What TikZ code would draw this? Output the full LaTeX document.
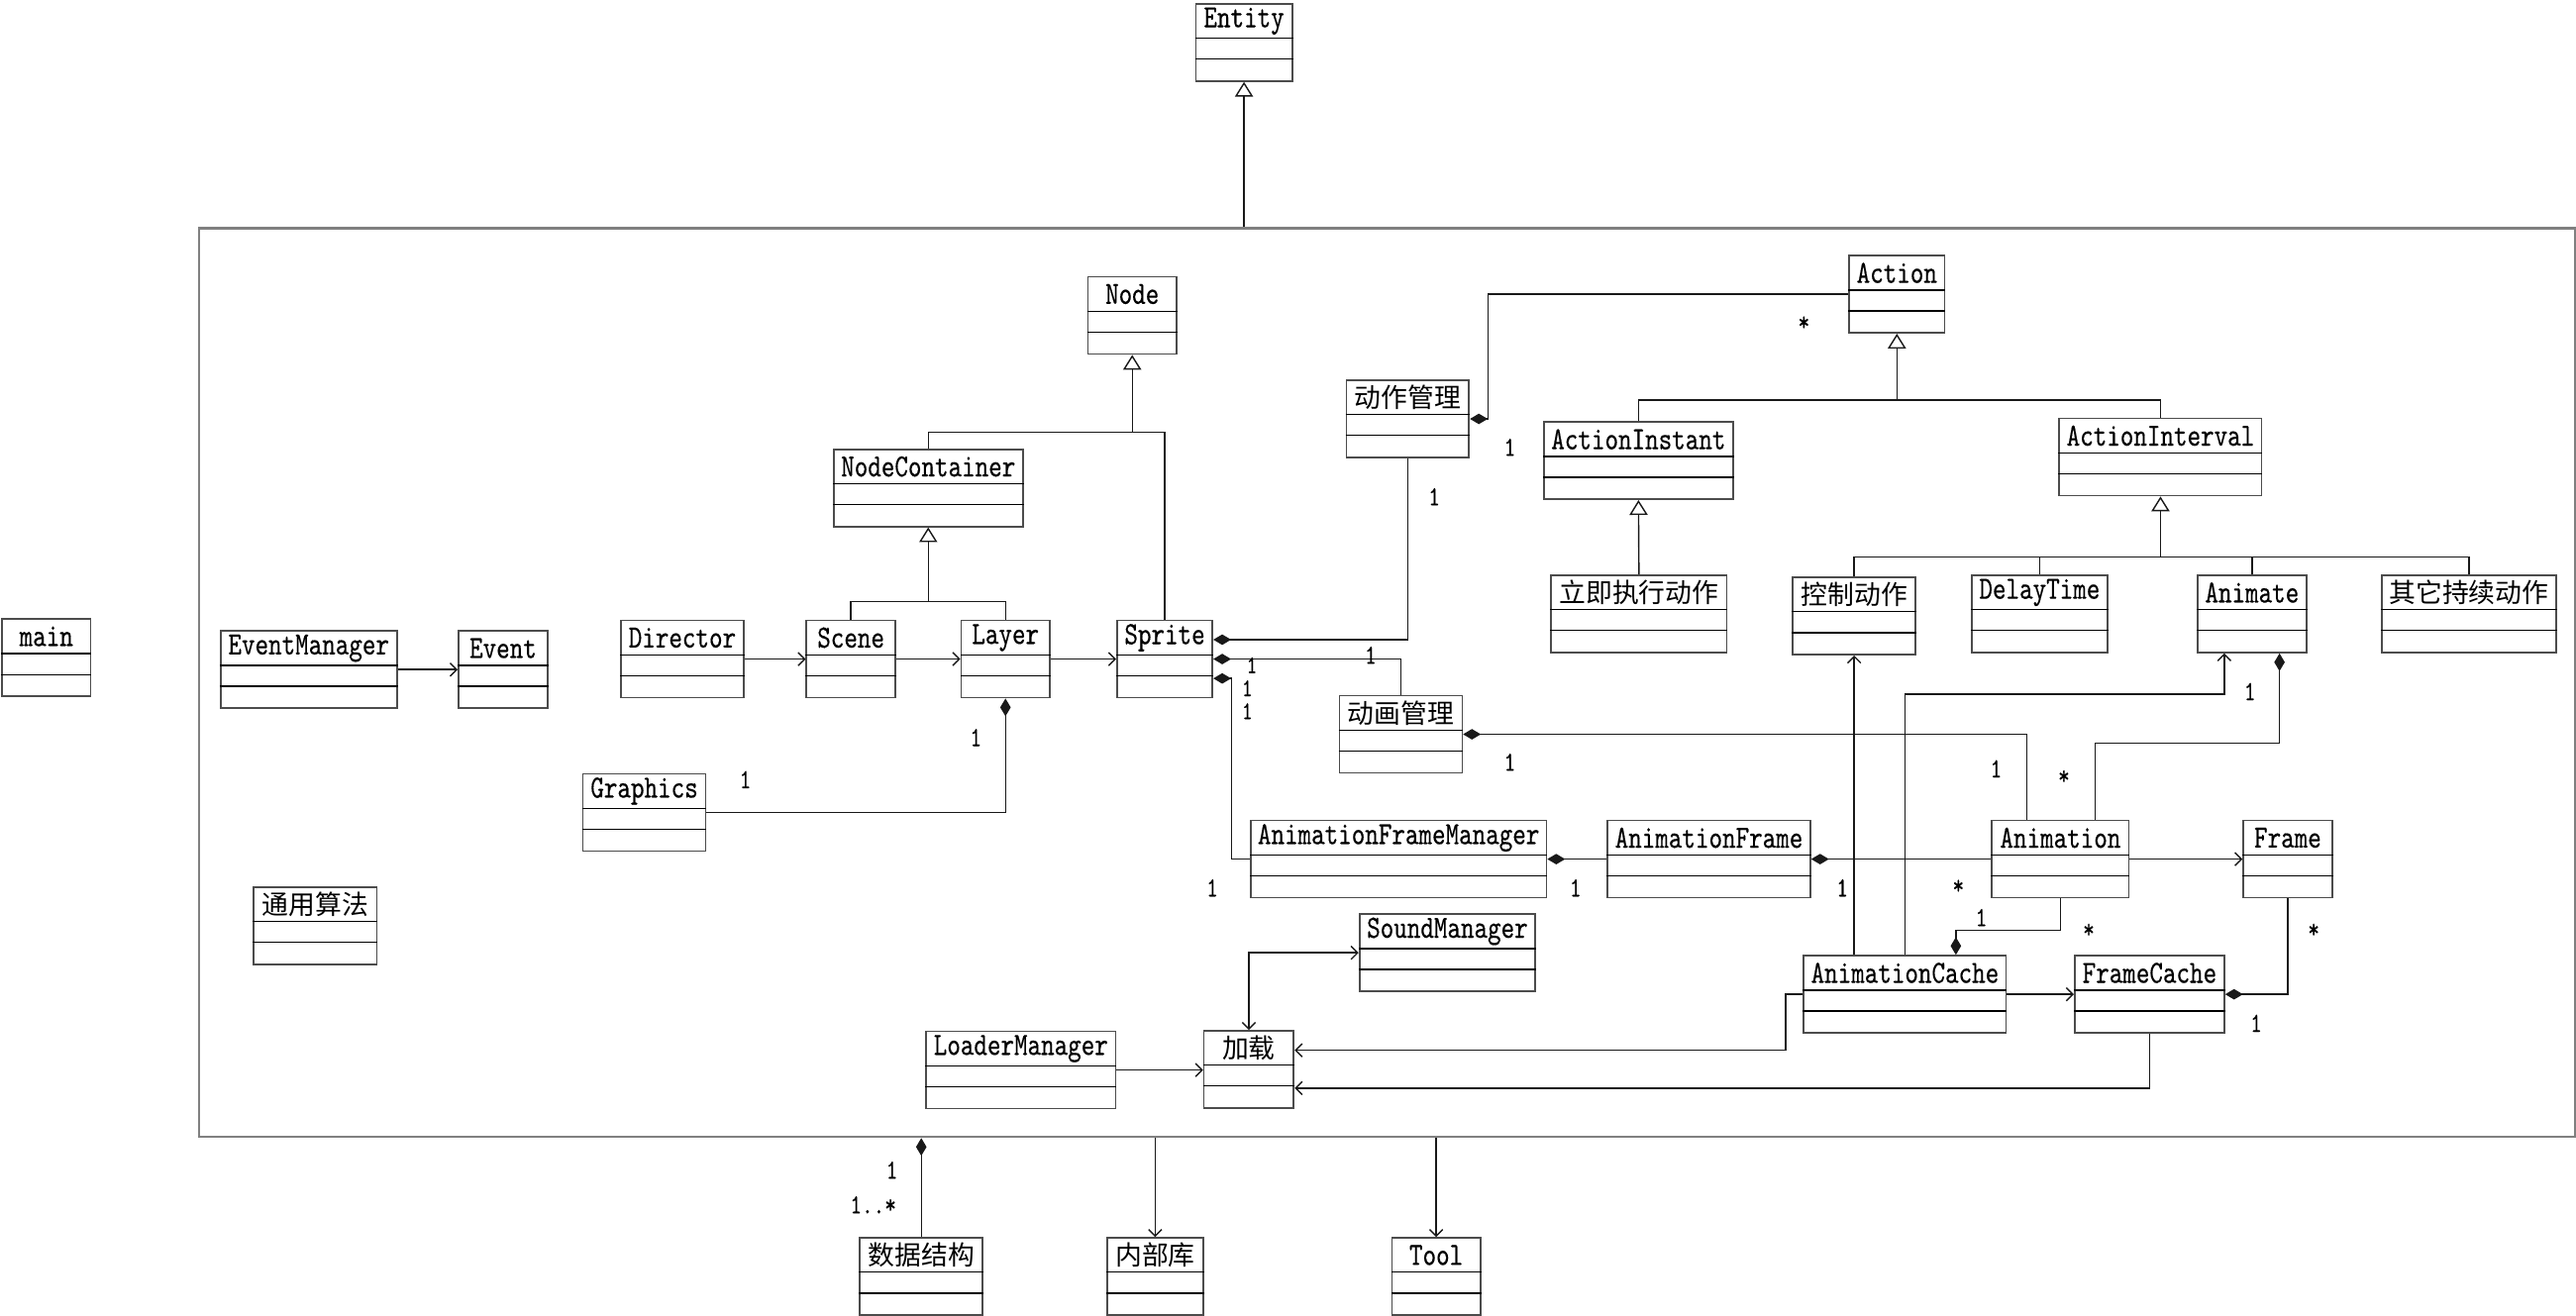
\documentclass[tikz,border=0pt]{standalone}
\usepackage{fontspec}
\setmainfont{lmmono10-regular}[Extension=.otf,FakeStretch=0.79,FakeBold=0.3]
\newfontfamily\cjk{Noto Sans CJK SC}
\usetikzlibrary{arrows.meta,calc}

\begin{document}
\begin{tikzpicture}[x=0.025cm,y=-0.025cm]
	% Dimensions (MODIFIABLES)
	\def\Ech{0.025cm}
	\def\Zh#1{{\cjk\fontsize{11.5}{14}\selectfont #1}}
	% Styles (MODIFIABLES)
	\tikzstyle{cadre}=[draw=black!50,line width=1.1pt,anchor=north west,inner sep=0pt]
	\tikzstyle{classe}=[draw=black!70,line width=0.75pt,anchor=north west,inner sep=0pt,minimum height=47*\Ech]
	\tikzstyle{entete}=[anchor=north,inner sep=0pt,minimum height=21.5*\Ech,font=\fontsize{14}{16}\selectfont]
	\tikzstyle{separ}=[black,line width=0.5pt]
	\tikzstyle{lien}=[black!90,line width=0.6pt]
	\tikzstyle{herite}=[lien,-{Triangle[open,fill=white,length=0.225cm,width=0.275cm]}]
	\tikzstyle{compo}=[lien,{Diamond[length=0.27cm,width=0.16cm]}-]
	\tikzstyle{nav}=[lien,-{Straight Barb[length=0.1cm,width=0.2cm]}]
	\tikzstyle{navnav}=[lien,{Straight Barb[length=0.1cm,width=0.2cm]}-{Straight Barb[length=0.1cm,width=0.2cm]}]
	\tikzstyle{mult}=[inner sep=0pt,font=\fontsize{12}{14}\selectfont]
	\tikzstyle{multserre}=[inner sep=0pt,font=\fontsize{11}{13}\selectfont]
	% Classe : nom, x, y (coin haut gauche), largeur, titre
	\def\Classe#1#2#3#4#5{%
		\node[classe,minimum width=#4*\Ech] (#1) at (#2,#3) {};
		\node[entete] (#1-titre) at (#1.north) {#5};
		\draw[separ] ($(#1.north west)+(0,21.5)$) -- ($(#1.north east)+(0,21.5)$);
		\draw[separ] ($(#1.north west)+(0,34.2)$) -- ($(#1.north east)+(0,34.2)$);}
	\useasboundingbox (0,0) rectangle (1568,801);
	% Cadre
	\node[cadre,minimum width=1446.5*\Ech,minimum height=553.1*\Ech] (Cadre) at (120.3,138.2) {};
	% Noeuds
	\Classe{Entity}{727.4}{1.8}{58.6}{Entity}
	\Classe{Node}{661.7}{168}{53.9}{Node}
	\Classe{NodeContainer}{507}{273}{115}{NodeContainer}
	\Classe{Action}{1125}{155.1}{58.2}{Action}
	\Classe{ActionMgr}{819.1}{231}{74.6}{\Zh{动作管理}}
	\Classe{ActionInstant}{939.3}{256.4}{115}{ActionInstant}
	\Classe{ActionInterval}{1253}{254.2}{123.1}{ActionInterval}
	\Classe{Immediat}{943.7}{349.7}{106.8}{\Zh{立即执行动作}}
	\Classe{Controle}{1090.8}{351}{74.6}{\Zh{控制动作}}
	\Classe{DelayTime}{1199.6}{349.7}{82.7}{DelayTime}
	\Classe{Animate}{1337.1}{349.7}{66.3}{Animate}
	\Classe{AutreDuree}{1449.2}{349.7}{106.3}{\Zh{其它持续动作}}
	\Classe{main}{0.6}{376.4}{54.1}{main}
	\Classe{EventManager}{133.8}{383.6}{107.2}{EventManager}
	\Classe{Event}{278.6}{383.6}{54.2}{Event}
	\Classe{Director}{377.6}{377.2}{74.4}{Director}
	\Classe{Scene}{490.4}{377.2}{54}{Scene}
	\Classe{Layer}{584.5}{377.2}{54}{Layer}
	\Classe{Sprite}{679.4}{377.2}{58.1}{Sprite}
	\Classe{AnimMgr}{814.8}{423}{74.7}{\Zh{动画管理}}
	\Classe{Graphics}{354.3}{470.6}{74.7}{Graphics}
	\Classe{AFM}{760.8}{499}{180}{AnimationFrameManager}
	\Classe{AnimationFrame}{978}{499}{123.4}{AnimationFrame}
	\Classe{Animation}{1212}{499}{83.3}{Animation}
	\Classe{Frame}{1365}{499}{54}{Frame}
	\Classe{Algo}{154}{539.5}{74.8}{\Zh{通用算法}}
	\Classe{SoundManager}{827}{556}{107}{SoundManager}
	\Classe{AnimationCache}{1097.4}{581.3}{123.2}{AnimationCache}
	\Classe{FrameCache}{1262.4}{581.3}{91}{FrameCache}
	\Classe{LoaderManager}{563.2}{627.4}{115.4}{LoaderManager}
	\Classe{Chargement}{732.3}{627}{54.7}{\Zh{加载}}
	\Classe{DataStruct}{522.9}{753.1}{74.7}{\Zh{数据结构}}
	\Classe{Internal}{673.6}{753.1}{58.1}{\Zh{内部库}}
	\Classe{Tool}{846.7}{753.1}{53.9}{Tool}
	% Niveaux des embranchements
	\coordinate (yNode) at (0,263);
	\coordinate (yNC) at (0,366.3);
	\coordinate (yAction) at (0,243.5);
	\coordinate (yInterval) at (0,339.2);
	% Arcs : heritage
	\draw[herite] (Entity.south |- Cadre.north) -- (Entity.south);
	\draw[herite] (Node.south |- yNode) -- (Node.south);
	\draw[lien] (NodeContainer.north) |- (Sprite.north |- yNode) -- (Sprite.north);
	\draw[herite] (NodeContainer.south |- yNC) -- (NodeContainer.south);
	\draw[lien] (Scene.north) |- (Layer.north |- yNC) -- (Layer.north);
	\draw[herite] (Action.south |- yAction) -- (Action.south);
	\draw[lien] (ActionInstant.north) |- (ActionInterval.north |- yAction) -- (ActionInterval.north);
	\draw[herite] (Immediat.north) -- (ActionInstant.south);
	\draw[herite] (ActionInterval.south |- yInterval) -- (ActionInterval.south);
	\draw[lien] (Controle.north) |- (AutreDuree.north |- yInterval) -- (AutreDuree.north);
	\draw[lien] (DelayTime.north) -- (DelayTime.north |- yInterval);
	\draw[lien] (Animate.north) -- (Animate.north |- yInterval);
	% Arcs : navigation
	\draw[nav] (EventManager) -- (Event);
	\draw[nav] (Director) -- (Scene);
	\draw[nav] (Scene) -- (Layer);
	\draw[nav] (Layer) -- (Sprite);
	\draw[nav] (Animation) -- (Frame);
	\draw[nav] (AnimationCache) -- (FrameCache);
	\draw[nav] (LoaderManager.east) -- (LoaderManager.east -| Chargement.west);
	\draw[navnav] (Chargement.north) |- (SoundManager.west);
	\draw[nav] (AnimationCache.north -| Controle.south) -- (Controle.south);
	\draw[nav] (AnimationCache.north) -- ++(0,-158.7) -| ($(Animate.south)+(-16.85,0)$);
	\draw[nav] (AnimationCache.west) -- ++(-10.4,0) |- ($(Chargement.east)+(0,-11.6)$);
	\draw[nav] (FrameCache.south) |- ($(Chargement.east)+(0,11.4)$);
	\draw[nav] (Cadre.south -| Internal.north) -- (Internal.north);
	\draw[nav] (Cadre.south -| Tool.north) -- (Tool.north);
	% Arcs : composition
	\draw[compo] (ActionMgr.east) -- ++(11,0) |- (Action.west);
	\draw[compo] ($(Sprite.east)+(0,-11.8)$) -| (ActionMgr.south);
	\draw[compo] (Sprite.east) -| (AnimMgr.north);
	\draw[compo] ($(Sprite.east)+(0,11.8)$) -- ++(11.2,0) |- (AFM.west);
	\draw[compo] (Layer.south) |- (Graphics.east);
	\draw[compo] (AnimMgr.east) -| ($(Animation.north)+(-20.6,0)$);
	\draw[compo] (AFM) -- (AnimationFrame);
	\draw[compo] (AnimationFrame) -- (Animation);
	\draw[compo] ($(Animate.south)+(16.75,0)$) -- ++(0,54.6) -| ($(Animation.north)+(21.1,0)$);
	\draw[compo] ($(AnimationCache.north)+(31,0)$) -- ++(0,-15.1) -| (Animation.south);
	\draw[compo] (FrameCache.east) -| (Frame.south);
	\draw[compo] (Cadre.south -| DataStruct.north) -- (DataStruct.north);
	% Multiplicites
	\node[mult] (mAction) at (1098,197) {*};
	\node[mult] (mActionMgrA) at (919,272.3) {1};
	\node[mult] (mActionMgrB) at (873,302.4) {1};
	\node[mult] (mAnimMgrA) at (834.3,398.9) {1};
	\node[multserre] (mSpriteA) at (762,405) {1};
	\node[multserre] (mSpriteB) at (759.2,419) {1};
	\node[multserre] (mSpriteC) at (759.2,433) {1};
	\node[mult] (mLayer) at (594,449) {1};
	\node[mult] (mGraphics) at (453.7,474.6) {1};
	\node[mult] (mAnimMgrB) at (919,464) {1};
	\node[mult] (mAnimationA) at (1215,468) {1};
	\node[mult] (mAnimationB) at (1256.3,473.3) {*};
	\node[mult] (mAnimate) at (1369.5,421) {1};
	\node[mult] (mAFM) at (737.9,540.5) {1};
	\node[mult] (mAFMb) at (959,540.5) {1};
	\node[mult] (mAnimFrame) at (1121.4,540.5) {1};
	\node[mult] (mAnimationC) at (1192,540) {*};
	\node[mult] (mCacheA) at (1206,558.6) {1};
	\node[mult] (mCacheB) at (1271.4,566.7) {*};
	\node[mult] (mFrame) at (1408.3,566.7) {*};
	\node[mult] (mFrameCache) at (1373.3,623) {1};
	\node[mult] (mCadre) at (542.9,712.4) {1};
	\node[mult] (mData) at (531.5,733.5) {1..*};
\end{tikzpicture}
\end{document}
